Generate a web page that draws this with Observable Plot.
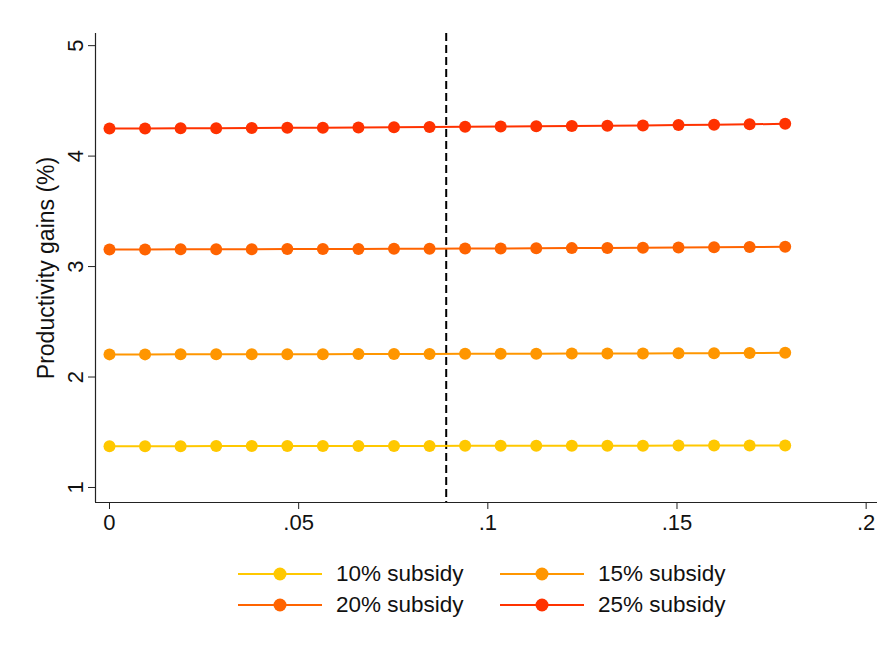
<!DOCTYPE html>
<html>
<head>
<meta charset="utf-8">
<script src="https://cdn.jsdelivr.net/npm/d3@7"></script>
<script src="https://cdn.jsdelivr.net/npm/@observablehq/plot@0.6"></script>
<style>
  html, body { margin: 0; padding: 0; background: #fff; }
  #wrap { position: relative; width: 883px; height: 646px; font-family: "Liberation Sans", Arial, sans-serif; }
  #legend { position: absolute; left: 0; top: 561px; width: 883px; }
  .item { position: absolute; display: flex; align-items: center; font-size: 22.5px; color: #111; }
  .item svg { margin-right: 14px; }
</style>
</head>
<body>
<div id="wrap"><div id="chart"></div><div id="legend"></div></div>
<script>
// Threshold values on the horizontal axis
const thresholds = [0, 0.0094, 0.0188, 0.0282, 0.0376, 0.047, 0.0564, 0.0658, 0.0752, 0.0846,
  0.094, 0.1034, 0.1128, 0.1222, 0.1316, 0.141, 0.1504, 0.1598, 0.1692, 0.1786];

// Productivity gains (%) for each subsidy rate
const gains10 = [1.374, 1.374, 1.374, 1.375, 1.375, 1.375, 1.375, 1.376, 1.376, 1.376,
  1.377, 1.377, 1.377, 1.378, 1.378, 1.378, 1.379, 1.379, 1.380, 1.380];
const gains15 = [2.205, 2.205, 2.206, 2.206, 2.206, 2.207, 2.207, 2.208, 2.208, 2.209,
  2.210, 2.210, 2.211, 2.212, 2.213, 2.214, 2.215, 2.216, 2.217, 2.219];
const gains20 = [3.155, 3.155, 3.156, 3.156, 3.157, 3.158, 3.159, 3.160, 3.161, 3.162,
  3.163, 3.164, 3.166, 3.167, 3.169, 3.171, 3.173, 3.175, 3.177, 3.180];
const gains25 = [4.250, 4.251, 4.252, 4.253, 4.254, 4.256, 4.257, 4.259, 4.261, 4.263,
  4.265, 4.267, 4.270, 4.272, 4.275, 4.278, 4.281, 4.284, 4.288, 4.292];

const seriesNames = ["10% subsidy", "15% subsidy", "20% subsidy", "25% subsidy"];
const seriesColors = ["#ffc800", "#ff9600", "#ff6400", "#ff3200"];
const cutoff = 0.089;

const xTicks = [0, 0.05, 0.1, 0.15, 0.2];
const xTickLabels = ["0", ".05", ".1", ".15", ".2"];
const yTicks = [1, 2, 3, 4, 5];

const xDomain = [-0.0037, 0.203];
const yDomain = [0.864, 5.11];

const allGains = [gains10, gains15, gains20, gains25];
const rows = [];
allGains.forEach((g, s) => g.forEach((v, i) => rows.push({series: seriesNames[s], x: thresholds[i], y: v})));

const chart = Plot.plot({
  width: 883,
  height: 540,
  marginLeft: 95,
  marginRight: 6,
  marginTop: 33,
  marginBottom: 38,
  style: {fontFamily: "Liberation Sans, Arial, sans-serif", background: "#fff", color: "#111"},
  x: {domain: xDomain},
  y: {domain: yDomain},
  color: {domain: seriesNames, range: seriesColors},
  marks: [
    Plot.ruleX([xDomain[0]], {stroke: "#222", strokeWidth: 1.2}),
    Plot.ruleY([yDomain[0]], {stroke: "#222", strokeWidth: 1.2}),
    Plot.axisY({ticks: yTicks, tickFormat: (d) => String(d), tickSize: 7, tickPadding: 6, tickRotate: -90, fontSize: 22, label: null, stroke: "#222"}),
    Plot.axisX({ticks: xTicks, tickFormat: (d, i) => xTickLabels[i], tickSize: 7, tickPadding: 5, fontSize: 22, label: null, stroke: "#222"}),
    Plot.text(["Productivity gains (%)"], {frameAnchor: "left", textAnchor: "middle", rotate: -90, dx: -49, fontSize: 23, fill: "#111"}),
    Plot.ruleX([cutoff], {stroke: "#000", strokeWidth: 2, strokeDasharray: "8,4"}),
    Plot.line(rows, {x: "x", y: "y", z: "series", stroke: "series", strokeWidth: 2}),
    Plot.dot(rows, {x: "x", y: "y", fill: "series", r: 6})
  ]
});
document.getElementById("chart").appendChild(chart);

// Legend: two columns, two rows
const legend = document.getElementById("legend");
const legendPos = [[238, 0], [500, 0], [238, 31], [500, 31]];
seriesNames.forEach((name, i) => {
  const item = document.createElement("div");
  item.className = "item";
  item.style.left = legendPos[i][0] + "px";
  item.style.top = legendPos[i][1] + "px";
  item.innerHTML = `<svg width="84" height="20"><line x1="0" x2="84" y1="10" y2="10" stroke="${seriesColors[i]}" stroke-width="2"/><circle cx="42" cy="10" r="6.5" fill="${seriesColors[i]}"/></svg><span>${name}</span>`;
  legend.appendChild(item);
});
</script>
</body>
</html>
